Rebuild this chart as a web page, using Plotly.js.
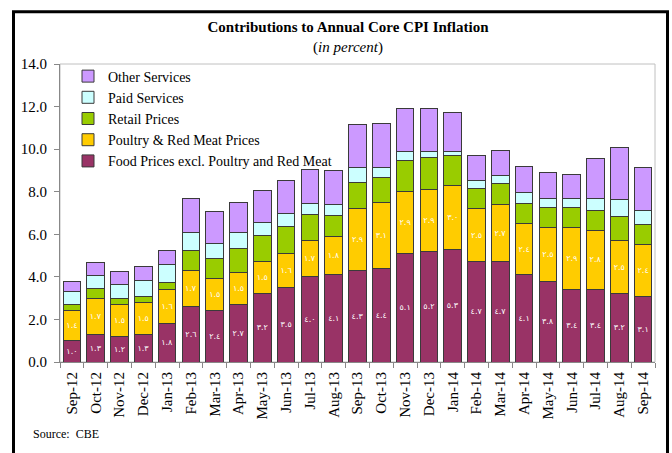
<!DOCTYPE html>
<html>
<head>
<meta charset="utf-8">
<script src="https://cdn.plot.ly/plotly-3.0.1.min.js"></script>
<style>html,body{margin:0;padding:0;background:#fff;}#chart{width:672px;height:453px;}</style>
</head>
<body>
<div id="chart"></div>
<script>
const months = ["Sep-12","Oct-12","Nov-12","Dec-12","Jan-13","Feb-13","Mar-13","Apr-13","May-13","Jun-13","Jul-13","Aug-13","Sep-13","Oct-13","Nov-13","Dec-13","Jan-14","Feb-14","Mar-14","Apr-14","May-14","Jun-14","Jul-14","Aug-14","Sep-14"];
const foodExcl = [1.0,1.3,1.2,1.3,1.8,2.6,2.4,2.7,3.2,3.5,4.0,4.1,4.3,4.4,5.1,5.2,5.3,4.7,4.7,4.1,3.8,3.4,3.4,3.2,3.1];
const poultryMeat = [1.4,1.7,1.5,1.5,1.6,1.7,1.5,1.5,1.5,1.6,1.7,1.8,2.9,3.1,2.9,2.9,3.0,2.5,2.7,2.4,2.5,2.9,2.8,2.5,2.4];
const retailPrices = [0.3,0.45,0.3,0.3,0.35,0.94,0.96,1.14,1.26,1.26,1.25,0.99,1.22,1.19,1.46,1.49,1.41,0.94,0.98,0.94,0.94,0.94,0.92,1.12,0.96];
const paidServices = [0.6,0.6,0.64,0.75,0.84,0.83,0.73,0.75,0.61,0.63,0.52,0.53,0.72,0.45,0.44,0.31,0.2,0.38,0.39,0.54,0.46,0.46,0.54,0.81,0.66];
const otherServices = [0.5,0.62,0.6,0.63,0.66,1.62,1.46,1.4,1.47,1.53,1.56,1.59,2.01,2.05,2.03,2.03,1.81,1.17,1.18,1.2,1.2,1.1,1.91,2.47,2.04];

const arabicDigits = "٠١٢٣٤٥٦٧٨٩";
function toArabic(v){ return v.toFixed(1).replace(/[0-9]/g, d => arabicDigits[+d]); }

const W = 672, H = 453, L = 60, R = 17, T = 63.5, B = 90.5;
const pw = W - L - R, ph = H - T - B;
const px = x => (x - L) / pw;
const py = y => (H - B - y) / ph;

const outline = {color: '#3a3a3a', width: 1};
const serif = "'Liberation Serif', 'Times New Roman', serif";
const labelFont = {family: "'DejaVu Sans', sans-serif", size: 8, color: '#ffffff'};

function barTrace(name, vals, color, withText){
  const t = {
    type: 'bar', name: name, x: months, y: vals,
    marker: {color: color, line: outline},
    hoverinfo: 'skip'
  };
  if (withText) {
    t.text = vals.map(toArabic);
    t.textposition = 'inside';
    t.insidetextanchor = 'middle';
    t.textangle = 0;
    t.textfont = labelFont;
    t.constraintext = 'none';
  } else {
    t.textposition = 'none';
  }
  return t;
}

const data = [
  barTrace('Food Prices excl. Poultry and Red Meat', foodExcl, '#993366', true),
  barTrace('Poultry &amp; Red Meat Prices', poultryMeat, '#FFCC00', true),
  barTrace('Retail Prices', retailPrices, '#99CC00', false),
  barTrace('Paid Services', paidServices, '#CCFFFF', false),
  barTrace('Other Services', otherServices, '#CC99FF', false)
];

const layout = {
  width: W, height: H,
  margin: {l: L, r: R, t: T, b: B, pad: 0},
  paper_bgcolor: '#ffffff', plot_bgcolor: '#ffffff',
  barmode: 'stack', bargap: 0.26,
  showlegend: true,
  legend: {
    x: px(68), y: py(60), xanchor: 'left', yanchor: 'top',
    traceorder: 'reversed', bgcolor: 'rgba(0,0,0,0)',
    font: {family: serif, size: 14, color: '#000'},
    itemwidth: 30, tracegroupgap: 0
  },
  title: {
    text: '<b>Contributions to Annual Core CPI Inflation</b><br>(<i>in percent</i>)',
    font: {family: serif, size: 15, color: '#000'},
    x: 348 / W, xref: 'container', xanchor: 'center',
    y: 1 - 32 / H, yref: 'container', yanchor: 'middle'
  },
  xaxis: {
    type: 'category', tickangle: -90,
    tickfont: {family: serif, size: 15, color: '#000'},
    showline: true, linecolor: '#888888', linewidth: 1,
    ticks: 'outside', ticklen: 5, tickcolor: '#888888', tickson: 'boundaries',
    ticklabelstandoff: 3,
    showgrid: false, zeroline: false, fixedrange: true
  },
  yaxis: {
    range: [0, 14], dtick: 2, tickformat: '.1f',
    tickfont: {family: serif, size: 15, color: '#000'},
    showline: true, linecolor: '#888888', linewidth: 1,
    ticks: 'outside', ticklen: 5, tickcolor: '#888888',
    ticklabelstandoff: 4,
    showgrid: false, zeroline: false, fixedrange: true
  },
  shapes: [
    {type: 'rect', xref: 'paper', yref: 'paper', x0: 0, x1: 1, y0: 0, y1: 1,
     line: {color: '#c0c0c0', width: 1}, layer: 'below'},
    {type: 'rect', xref: 'paper', yref: 'paper', x0: px(13.5), x1: px(667.5), y0: py(11), y1: py(480),
     line: {color: '#000000', width: 3}, fillcolor: 'rgba(0,0,0,0)'}
  ],
  annotations: [
    {text: 'Source:  CBE', xref: 'paper', yref: 'paper', x: px(31), y: py(435),
     xanchor: 'left', yanchor: 'middle', showarrow: false,
     font: {family: serif, size: 12, color: '#000'}}
  ]
};

Plotly.newPlot('chart', data, layout, {displayModeBar: false, staticPlot: true});
</script>
</body>
</html>
